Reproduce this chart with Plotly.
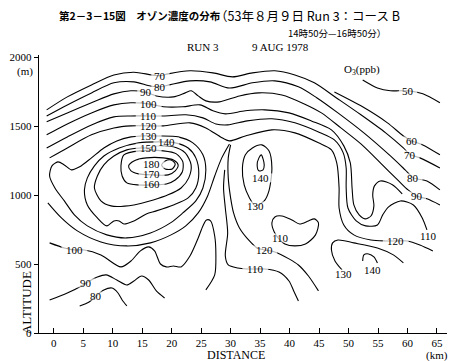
import plotly.graph_objects as go

# ---- contour lines of O3 (ppb): distance (km) and altitude (m) ----
c50_km = [52.4, 54.9, 57.1, 58.5, 60.1, 62.6, 65.5]
c50_m = [1834, 1776, 1755, 1755, 1755, 1733, 1668]

c60_km = [47.6, 52.1, 56.6, 59.3, 60.8, 62.6, 65.5]
c60_m = [1747, 1646, 1523, 1428, 1392, 1363, 1291]

c70_km = [-1.2, 2.3, 6.4, 10.2, 13.6, 16.6, 18.1, 19.4, 23.1, 27.0, 30.3, 33.7, 37.5, 40.9, 44.2, 47.9, 52.1, 56.3, 59.3, 60.5, 62.1, 65.5]
c70_m = [1617, 1711, 1798, 1870, 1890, 1870, 1865, 1878, 1900, 1885, 1856, 1885, 1900, 1870, 1813, 1705, 1581, 1450, 1341, 1291, 1269, 1196]

c80_km = [-1.2, 2.3, 6.4, 10.2, 13.6, 16.4, 18.1, 19.8, 23.1, 26.5, 29.8, 33.7, 37.5, 41.5, 44.6, 48.2, 52.6, 57.1, 59.6, 61.0, 63.3, 65.5]
c80_m = [1573, 1653, 1740, 1813, 1820, 1790, 1784, 1800, 1827, 1820, 1775, 1813, 1827, 1784, 1705, 1595, 1450, 1283, 1182, 1124, 1102, 1037]

c90_km = [-1.2, 2.3, 6.4, 10.2, 13.1, 15.7, 17.4, 20.3, 22.3, 23.3, 24.5, 25.8, 28.1, 31.5, 34.8, 38.7, 42.5, 45.4, 48.7, 52.1, 55.4, 58.5, 60.1, 61.6, 63.3, 65.5]
c90_m = [1530, 1595, 1668, 1733, 1755, 1745, 1718, 1711, 1740, 1755, 1718, 1682, 1675, 1718, 1740, 1725, 1660, 1595, 1486, 1370, 1233, 1102, 1037, 993, 972, 928]

c100_km = [-1.2, 2.3, 6.4, 10.2, 13.1, 16.1, 18.6, 21.9, 24.8, 27.0, 29.1, 32.5, 35.8, 39.9, 43.7, 47.1, 49.2, 50.3, 50.6, 50.9, 51.8, 52.8, 53.8, 54.3, 54.1, 54.4, 55.4, 57.5, 59.1]
c100_m = [1436, 1515, 1595, 1653, 1668, 1660, 1639, 1639, 1653, 1610, 1588, 1610, 1617, 1595, 1537, 1472, 1356, 1233, 1051, 928, 856, 827, 848, 921, 1001, 1066, 1102, 1073, 1008]

c110_km = [-1.2, 2.3, 6.4, 10.2, 13.1, 16.1, 18.6, 22.4, 25.3, 27.5, 29.5, 32.8, 37.0, 40.9, 44.9, 47.6, 49.1, 49.6, 49.6, 49.9, 51.3, 52.9, 54.9, 55.8, 56.8, 58.8, 61.0, 62.5, 63.3]
c110_m = [1341, 1421, 1508, 1566, 1573, 1573, 1573, 1581, 1559, 1515, 1508, 1537, 1552, 1523, 1457, 1399, 1305, 1196, 1051, 906, 812, 776, 783, 856, 914, 957, 928, 834, 747]

c120_upper_km = [-0.7, 2.3, 6.4, 10.2, 13.1, 16.1, 18.6, 23.1, 25.8, 28.3, 29.8, 32.5, 37.0, 40.9, 44.9, 47.1, 48.0, 48.4, 48.4, 49.2, 50.9, 53.8, 56.3, 58.0, 60.0, 62.1, 64.3]
c120_upper_m = [1269, 1341, 1436, 1486, 1501, 1501, 1501, 1523, 1486, 1421, 1392, 1428, 1472, 1450, 1378, 1327, 1233, 1051, 906, 783, 711, 674, 667, 667, 667, 638, 595]

c120_lower_km = [-1.0, 1.3, 4.0, 8.0, 12.4, 16.4, 19.9, 22.4, 24.5, 26.1, 27.3, 28.5, 29.8]
c120_lower_m = [943, 834, 740, 660, 631, 653, 711, 776, 870, 993, 1138, 1269, 1370]

c120_mid_km = [30.0, 29.6, 29.6, 30.0, 30.5, 31.5, 33.2, 34.5, 35.7, 37.5, 39.9, 41.5, 43.2, 44.9]
c120_mid_m = [1363, 1269, 1124, 979, 870, 761, 667, 616, 602, 587, 537, 493, 413, 305]

c110_mid_km = [29.0, 28.8, 29.1, 29.5, 29.1, 29.6, 31.2, 32.7, 34.2, 35.8, 38.2, 39.9, 40.7, 41.5]
c110_mid_m = [1182, 1051, 906, 725, 558, 493, 471, 464, 464, 464, 442, 377, 305, 232]

c110_loop_km = [37.0, 37.5, 38.7, 40.4, 41.7, 43.2, 44.2, 44.9, 44.4, 42.7, 40.9, 39.2, 38.2, 37.4, 37.0]
c110_loop_m = [798, 841, 848, 819, 790, 812, 827, 798, 711, 645, 631, 645, 682, 732, 798]

c100_low_km = [-0.7, 1.8, 3.5, 5.2, 8.0, 11.4, 13.1, 14.7, 16.1, 17.1, 18.1, 19.1, 20.3, 21.6, 23.1, 24.5, 25.3, 25.9, 26.6, 27.3, 27.5, 27.3, 25.8]
c100_low_m = [653, 616, 602, 602, 566, 479, 522, 595, 624, 595, 500, 479, 486, 479, 558, 689, 776, 819, 812, 703, 566, 421, 312]

c90_low_km = [-0.7, 2.3, 4.7, 5.5, 7.4, 8.9, 10.7, 12.4, 13.6, 14.9, 16.1, 17.4, 18.8]
c90_low_m = [239, 290, 341, 363, 406, 421, 384, 348, 377, 413, 384, 305, 254]

c80_low_km = [4.4, 6.0, 7.2, 8.5, 9.9, 10.9, 11.6, 12.4]
c80_low_m = [196, 225, 268, 312, 326, 290, 239, 196]

c130_core_km = [14.7, 17.8, 21.1, 23.6, 25.3, 25.8, 25.3, 24.1, 21.9, 19.8, 16.4, 12.4, 9.0, 5.7, 3.5, 1.8, 0.2, -0.7, -0.3, 0.7, 1.8, 3.0, 4.4, 6.4, 8.5, 10.7, 13.1, 14.7]
c130_core_m = [1428, 1428, 1421, 1378, 1291, 1182, 1051, 957, 870, 798, 725, 689, 711, 776, 856, 957, 1051, 1138, 1211, 1240, 1218, 1182, 1204, 1269, 1341, 1392, 1421, 1428]

c140_core_km = [17.8, 20.6, 22.8, 24.1, 24.6, 24.1, 22.8, 20.3, 17.4, 15.7, 13.6, 11.9, 11.1, 10.2, 9.0, 7.4, 5.7, 5.2, 5.7, 6.9, 8.5, 11.1, 14.4, 17.8]
c140_core_m = [1385, 1378, 1341, 1269, 1160, 1051, 979, 928, 885, 863, 812, 790, 812, 812, 776, 834, 928, 1037, 1124, 1211, 1283, 1341, 1378, 1385]

c150_core_km = [17.4, 20.3, 22.3, 23.3, 22.9, 21.6, 19.4, 16.9, 13.6, 9.7, 8.0, 6.9, 7.4, 8.5, 10.2, 12.4, 14.7, 16.1, 17.4]
c150_core_m = [1356, 1349, 1305, 1218, 1124, 1051, 1001, 964, 928, 921, 957, 1051, 1138, 1218, 1283, 1327, 1341, 1341, 1356]

c160_core_km = [11.9, 14.7, 18.6, 20.8, 21.9, 21.8, 20.6, 19.1, 16.6, 14.4, 12.4, 11.6, 11.4, 11.9]
c160_core_m = [1291, 1320, 1320, 1298, 1240, 1167, 1109, 1080, 1073, 1073, 1088, 1138, 1211, 1291]

c170_core_km = [12.7, 13.6, 15.7, 18.6, 20.3, 21.1, 20.6, 19.4, 16.6, 14.4, 13.1, 12.7]
c170_core_m = [1211, 1247, 1269, 1269, 1254, 1218, 1175, 1146, 1146, 1153, 1175, 1211]

c180_core_km = [18.3, 18.9, 19.9, 20.6, 20.1, 18.9, 18.3]
c180_core_m = [1218, 1247, 1254, 1225, 1189, 1189, 1218]

c130_island_km = [33.7, 35.3, 36.5, 37.0, 36.5, 35.7, 34.2, 33.2, 32.3, 32.0, 32.5, 33.7]
c130_island_m = [1341, 1363, 1320, 1196, 1030, 957, 921, 979, 1073, 1196, 1291, 1341]

c140_island_km = [34.8, 35.2, 35.5, 35.7, 35.5, 34.8, 34.5, 34.8]
c140_island_m = [1269, 1291, 1262, 1218, 1182, 1175, 1218, 1269]

c130_right_km = [48.9, 47.7, 47.1, 47.3, 48.2, 50.9, 54.9, 57.6, 59.3]
c130_right_m = [457, 522, 602, 653, 674, 653, 616, 566, 508]

c140_right_km = [52.4, 52.6, 53.4, 54.3, 54.9]
c140_right_m = [522, 566, 573, 551, 508]

# ---- contour labels: level, km, m ----
label_levels = [70, 80, 90, 100, 110, 120, 130, 140, 150, 180, 170, 160,
                50, 60, 70, 80, 90, 110, 120, 130, 140,
                140, 130, 110, 120, 110, 100, 90, 80]
label_km = [18.1, 18.1, 15.7, 16.1, 16.1, 16.1, 16.1, 19.1, 16.1, 16.6, 16.6, 16.6,
            60.1, 60.8, 60.5, 61.0, 61.6, 63.5, 58.0, 49.2, 54.1,
            35.0, 34.2, 38.4, 35.7, 34.2, 3.5, 5.5, 7.2]
label_m = [1865, 1784, 1745, 1660, 1573, 1501, 1428, 1385, 1341, 1225, 1153, 1080,
           1755, 1392, 1291, 1124, 993, 703, 667, 428, 457,
           1124, 921, 689, 602, 464, 602, 363, 268]

x_ticks = [0, 5, 10, 15, 20, 25, 30, 35, 40, 45, 50, 55, 60, 65]
y_ticks = [0, 500, 1000, 1500, 2000]

lines = [
    (c50_km, c50_m), (c60_km, c60_m), (c70_km, c70_m), (c80_km, c80_m),
    (c90_km, c90_m), (c100_km, c100_m), (c110_km, c110_m),
    (c120_upper_km, c120_upper_m), (c120_lower_km, c120_lower_m),
    (c120_mid_km, c120_mid_m), (c110_mid_km, c110_mid_m),
    (c110_loop_km, c110_loop_m), (c100_low_km, c100_low_m),
    (c90_low_km, c90_low_m), (c80_low_km, c80_low_m),
    (c130_core_km, c130_core_m), (c140_core_km, c140_core_m),
    (c150_core_km, c150_core_m), (c160_core_km, c160_core_m),
    (c170_core_km, c170_core_m), (c180_core_km, c180_core_m),
    (c130_island_km, c130_island_m), (c140_island_km, c140_island_m),
    (c130_right_km, c130_right_m), (c140_right_km, c140_right_m),
]

W, H = 457, 361
L, R, T, B = 34, 10, 55, 28
PW, PH = W - L - R, H - T - B


def px(x):
    return (x - L) / PW


def py(y):
    return (H - B - y) / PH


SERIF = "Liberation Serif"
CJK = "Noto Sans CJK JP"

fig = go.Figure()
for xs, ys in lines:
    fig.add_trace(go.Scatter(
        x=xs, y=ys, mode="lines",
        line=dict(color="black", width=1.1, shape="spline", smoothing=0.8),
        hoverinfo="skip", showlegend=False))

# white bars that open a gap in the lines where a level label sits
label_text = [str(v) for v in label_levels]
fig.add_trace(go.Scatter(
    x=label_km, y=label_m, mode="markers",
    marker=dict(symbol="line-ew", size=[len(t) * 5.5 + 2 for t in label_text],
                color="white", line=dict(color="white", width=9)),
    hoverinfo="skip", showlegend=False))

annotations = []
for t, xk, ym in zip(label_text, label_km, label_m):
    annotations.append(dict(
        x=xk, y=ym, xref="x", yref="y", text=t, showarrow=False,
        font=dict(family=SERIF, size=11, color="#000000")))


def txt(t, x, y, size=11, family=SERIF, anchor="left", angle=0):
    annotations.append(dict(
        x=px(x), y=py(y), xref="paper", yref="paper", text=t,
        showarrow=False, xanchor=anchor, yanchor="middle",
        textangle=angle, font=dict(family=family, size=size, color="#000000")))


txt("<b>第2－3－15図　オゾン濃度の分布</b>", 52, 15, size=10.5, family=CJK)
txt("（53年８月９日 Run 3：コース B", 210, 15, size=12.5, family=CJK)
txt("14時50分—16時50分）", 284, 33, size=9.5, family=CJK)
txt("RUN 3", 200, 47, size=11, anchor="center")
txt("9 AUG 1978", 278, 47, size=11, anchor="center")
txt("O<sub>3</sub>(ppb)", 361, 70, size=11, anchor="center")
txt("(m)", 20, 71, size=11, anchor="center")
txt("(km)", 437, 355, size=11, anchor="center")
txt("DISTANCE", 233, 355, size=12, anchor="center")
txt("ALTITUDE", 21, 303, size=13, anchor="center", angle=-90)

fig.update_layout(
    width=W, height=H,
    margin=dict(l=L, r=R, t=T, b=B),
    paper_bgcolor="white", plot_bgcolor="white",
    annotations=annotations,
    hovermode=False, dragmode=False,
    xaxis=dict(range=[-2.5, 66.7], tickvals=x_ticks, ticks="inside",
               ticklen=5, tickcolor="black", showline=True, linecolor="black",
               linewidth=1.2, showgrid=False, zeroline=False,
               tickfont=dict(family=SERIF, size=11, color="black")),
    yaxis=dict(range=[0, PH / 0.138], tickvals=y_ticks, ticks="outside",
               ticklen=4, tickcolor="black", showline=True, linecolor="black",
               linewidth=1.2, showgrid=False, zeroline=False,
               tickfont=dict(family=SERIF, size=11, color="black")),
)

fig.write_html("out.html",
               config={"displayModeBar": False, "staticPlot": True},
               post_script="document.body.style.margin='0';"
                           "document.body.style.overflow='hidden';")
